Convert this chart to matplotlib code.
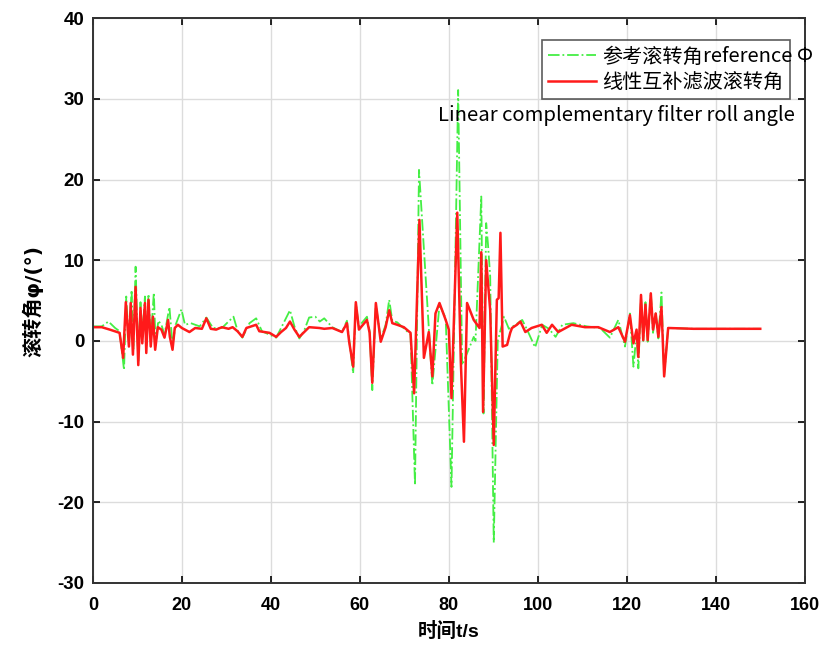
import matplotlib
matplotlib.use('Agg')
import matplotlib.pyplot as plt
import numpy as np

plt.rcParams['font.family'] = ['Liberation Sans', 'Noto Sans CJK SC', 'DejaVu Sans']
plt.rcParams['axes.unicode_minus'] = False

# reference roll angle (green dash-dot)
t_ref = [0, 2, 3.5, 5, 6, 7.0, 7.5, 8.1, 8.7, 9.1, 9.6, 10.2, 10.7, 11.1, 11.7, 12.0,
         12.5, 13.0, 13.7, 14.1, 14.7, 15.4, 16.1, 17.2, 17.9, 18.6, 19.9, 20.7, 22.0,
         24.0, 25.5, 27.0, 29.0, 31.6, 32.5, 33.6, 35.2, 36.7, 38.0, 41.2, 42.3, 44.3,
         45.3, 46.4, 47.5, 48.6, 50.0, 51.0, 52.0, 53.8, 56.0, 57.1, 58.5, 59.1, 59.8,
         61.6, 62.2, 62.8, 63.6, 64.7, 65.8, 66.6, 67.3, 68.4, 70.0, 71.4, 72.4, 73.3,
         76.3, 77.9, 79.3, 80.6, 82.1, 83.0, 84.5, 85.6, 86.0, 87.3, 87.8, 88.4, 88.8,
         89.3, 90.1, 91.0, 92.4, 93.5, 95.0, 96.5, 97.5, 99.4, 101.0, 102.5, 104.0,
         105.5, 108.0, 111.0, 114.0, 116.2, 118.1, 119.6, 120.7, 121.5, 122.2, 122.6,
         123.2, 123.7, 124.2, 124.7, 125.4, 125.9, 126.5, 127.1, 127.8, 128.4, 129.3,
         135, 150]
ref_roll = [1.8, 1.8, 2.4, 1.6, 1.2, -3.6, 5.5, -0.5, 6.3, -1.0, 9.2, -2.5, 4.8, 0.5, 5.5, -0.8,
            5.8, 0.0, 6.0, -0.5, 2.5, 2.0, 0.8, 4.2, -0.5, 2.0, 3.9, 2.0, 2.2,
            1.8, 2.9, 1.6, 1.6, 3.0, 1.3, 0.4, 2.2, 2.8, 1.2, 0.4, 1.6, 3.8,
            1.8, 0.3, 1.3, 2.9, 3.0, 2.4, 2.8, 1.7, 1.1, 2.5, -4.0, 4.6, 1.8,
            3.0, 1.2, -6.1, 4.5, 0.2, 2.0, 5.1, 2.5, 2.3, 1.5, 0.8, -17.9, 21.2,
            -5.5, 4.5, 2.8, -18.1, 31.1, -3.0, -1.0, 0.5, 0.0, 17.9, -9.0, 14.6, 12.0,
            8.0, -25.0, 0.0, 3.0, 1.5, 2.0, 2.6, 1.5, -0.8, 2.0, 1.5, 0.5,
            2.0, 2.2, 1.8, 1.6, 0.4, 2.6, -0.7, 3.4, -3.2, 1.0, -3.4,
            5.5, 0.0, 4.8, -0.1, 6.0, 1.0, 3.4, 0.3, 6.0, -4.2, 1.6,
            1.5, 1.5]

# linear complementary filter roll angle (red)
t_filt = [0, 2, 3.8, 6, 6.8, 7.4, 8.1, 8.5, 9.0, 9.6, 10.2, 10.7, 11.1, 11.7, 12.0, 12.5,
          13.0, 13.5, 14.0, 14.6, 15.4, 16.1, 16.9, 17.3, 17.9, 18.4, 19.1, 20.0, 21.7,
          23.0, 24.5, 25.5, 26.5, 27.7, 29.0, 30.5, 31.4, 32.5, 33.6, 34.5, 36.7, 37.4,
          38.5, 39.7, 41.2, 42.3, 43.4, 44.3, 45.3, 46.4, 47.5, 48.6, 50.9, 52.0, 53.8,
          56.0, 57.1, 57.6, 58.5, 59.1, 59.8, 61.0, 61.6, 62.2, 62.8, 63.6, 64.7, 65.8,
          66.6, 67.3, 68.4, 69.9, 71.4, 72.2, 73.4, 74.4, 75.5, 76.3, 77.0, 77.9, 79.3,
          80.0, 80.6, 81.9, 82.7, 83.4, 84.1, 85.6, 86.9, 87.3, 87.7, 88.4, 89.3, 90.1,
          90.8, 91.2, 91.6, 92.1, 93.1, 93.8, 94.2, 95.3, 96.1, 97.2, 98.6, 100.9, 102.0,
          103.2, 104.6, 107.6, 110.6, 113.6, 116.2, 118.1, 119.6, 120.7, 121.5, 122.2,
          122.6, 123.2, 123.7, 124.2, 124.7, 125.4, 125.9, 126.5, 127.1, 127.8, 128.4,
          129.3, 135, 150]
filt_roll = [1.7, 1.7, 1.4, 1.0, -2.1, 4.8, -0.7, 4.7, -1.7, 6.7, -3.0, 4.1, -0.3, 4.7, -1.5, 5.1,
             -0.7, 3.0, -1.1, 1.7, 1.4, 0.4, 2.6, 0.5, -1.1, 1.6, 2.0, 1.6, 1.1,
             1.6, 1.5, 2.8, 1.5, 1.4, 1.7, 1.5, 1.7, 1.2, 0.5, 1.6, 2.0, 1.2,
             1.1, 1.0, 0.5, 1.1, 1.6, 2.4, 1.4, 0.5, 1.1, 1.7, 1.6, 1.5, 1.6,
             1.1, 2.2, -0.1, -3.2, 4.8, 1.4, 2.2, 2.6, 1.0, -5.2, 4.7, -0.1, 1.7,
             3.8, 2.2, 2.0, 1.7, 1.0, -6.5, 15.0, -2.1, 1.1, -4.4, 3.4, 4.7, 2.6,
             1.4, -7.1, 15.9, -2.6, -12.5, 4.7, 2.6, 1.6, 11.0, -8.8, 10.0, 3.8, -12.9,
             5.1, 5.3, 13.4, -0.7, -0.5, 1.0, 1.6, 2.0, 2.4, 1.1, 1.6, 2.0, 1.0,
             2.0, 1.1, 2.0, 1.7, 1.7, 1.1, 1.7, -0.1, 3.2, -0.3, 1.4,
             -2.0, 5.7, 0.1, 4.5, 0.1, 5.9, 1.4, 3.4, 0.5, 4.2, -4.4,
             1.6, 1.5, 1.5]

labels = ['参考滚转角', '线性互补滤波滚转角']

fig = plt.figure(figsize=(8.22, 6.52), dpi=100)
ax = fig.add_axes([0.113, 0.106, 0.866, 0.866])

ax.plot(t_ref, ref_roll, color='#44ee44', linestyle='-.', linewidth=1.3, label=labels[0])
ax.plot(t_filt, filt_roll, color='#ff1a1a', linestyle='-', linewidth=1.8, label=labels[1])

ax.set_xlim(0, 160)
ax.set_ylim(-30, 40)
ax.set_xticks(np.arange(0, 161, 20))
ax.set_yticks(np.arange(-30, 41, 10))
ax.grid(True, color='#dcdcdc', linewidth=1.0)
ax.set_axisbelow(True)
ax.tick_params(direction='in', top=True, right=True, length=5, width=1.2, labelsize=13.5, pad=6)
ax.tick_params(axis='x', labelsize=13, pad=10)
for lab in ax.get_xticklabels() + ax.get_yticklabels():
    lab.set_fontweight('bold')
for sp in ax.spines.values():
    sp.set_linewidth(1.4)
    sp.set_color('#333333')

ax.set_xlabel('时间t/s', fontsize=14, fontweight='bold',
              family=['Liberation Sans', 'Noto Sans CJK SC'], labelpad=6)
ax.set_ylabel('滚转角φ/(°)', fontsize=14.5, fontweight='bold',
              family=['DejaVu Sans', 'Noto Sans CJK SC'], labelpad=10)

leg = ax.legend(loc='upper left', bbox_to_anchor=(0.631, 0.961), borderaxespad=0,
                prop={'family': 'Noto Sans CJK SC', 'size': 14.5}, frameon=True, fancybox=False,
                edgecolor='#333333', handlelength=2.4, borderpad=0.3, labelspacing=0.25,
                handletextpad=0.3)
leg.get_frame().set_linewidth(1.2)

fig.canvas.draw()
r = fig.canvas.get_renderer()
bb = leg.get_texts()[0].get_window_extent(r)
fig.text(bb.x1 / fig.dpi / 8.22, (bb.y0 + bb.y1) / 2 / fig.dpi / 6.52, 'reference Φ',
         family='Noto Sans CJK SC', fontsize=14.5, va='center', ha='left')

ax.text(795 / 822, 1 - 115 / 652, 'Linear complementary filter roll angle',
        transform=fig.transFigure, family='Noto Sans CJK SC', fontsize=14.6,
        ha='right', va='center')

fig.savefig('out.png', dpi=100)
